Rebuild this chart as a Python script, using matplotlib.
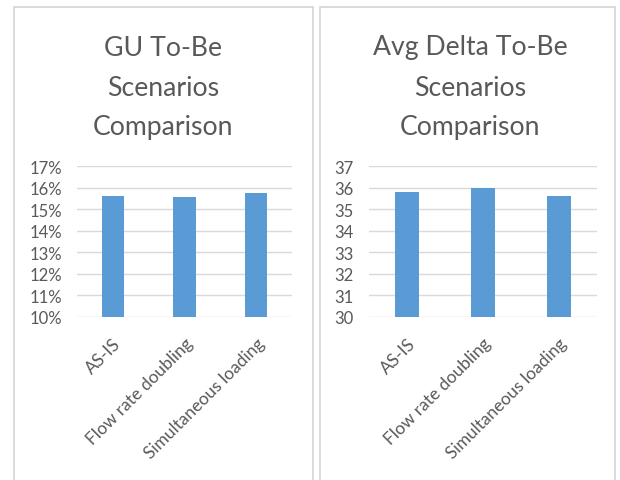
import matplotlib
matplotlib.use("Agg")
import matplotlib.pyplot as plt
from matplotlib.patches import Rectangle
from matplotlib.ticker import FuncFormatter

categories = ["AS-IS", "Flow rate doubling", "Simultaneous loading"]
gu_values = [0.1563, 0.1558, 0.1573]
delta_values = [35.81, 36.0, 35.6]
gu_title = "GU To-Be\nScenarios\nComparison"
delta_title = "Avg Delta To-Be\nScenarios\nComparison"

W, H = 620, 481
fig = plt.figure(figsize=(W / 100, H / 100), dpi=100)
fig.patch.set_facecolor("white")

FONT = "Lato"
TXT = "#595959"
BAR = "#5b9bd5"
GRID = "#d9d9d9"

def fx(px):
    return px / W

def fy(py):
    return 1 - py / H

# panel borders
for x0, x1 in [(14, 313), (320, 615)]:
    fig.patches.append(Rectangle((fx(x0), fy(H + 5)), fx(x1) - fx(x0), fy(8) - fy(H + 5),
                                 transform=fig.transFigure, fill=False,
                                 edgecolor="#d4d4d4", linewidth=1.2))

def make(ax_px, title, title_cx, values, ymin, ymax, fmt):
    x0, x1, ytop, ybot = ax_px
    ax = fig.add_axes([fx(x0), fy(ybot), fx(x1) - fx(x0), fy(ytop) - fy(ybot)])
    xs = range(len(categories))
    ax.bar(xs, values, width=0.31, color=BAR, zorder=3)
    ax.set_ylim(ymin, ymax)
    ax.set_xlim(-0.5, len(categories) - 0.5)
    ax.set_yticks([ymin + (ymax - ymin) * i / 7 for i in range(8)])
    ax.yaxis.set_major_formatter(FuncFormatter(fmt))
    ax.grid(axis="y", color=GRID, linewidth=1.0, zorder=0)
    for s in ax.spines.values():
        s.set_visible(False)
    ax.tick_params(axis="y", length=0, pad=11, labelsize=12, labelcolor=TXT)
    ax.tick_params(axis="x", length=0, pad=13)
    ax.set_xticks(list(xs))
    ax.set_xticklabels(categories, rotation=45, ha="right", va="top",
                       rotation_mode="anchor", fontsize=12.5, color=TXT, family=FONT)
    for lab in ax.get_yticklabels():
        lab.set_family(FONT)
    fig.text(fx(title_cx), fy(88), title, ha="center", va="center",
             fontsize=19.2, color=TXT, family=FONT, linespacing=1.75)
    return ax

make((77, 292, 167, 318), gu_title, 163, gu_values, 0.10, 0.17,
     lambda v, p: f"{v*100:.0f}%")
make((369, 597, 167, 318), delta_title, 470, delta_values, 30, 37,
     lambda v, p: f"{v:.0f}")

fig.savefig("out.png", dpi=100, facecolor="white")
